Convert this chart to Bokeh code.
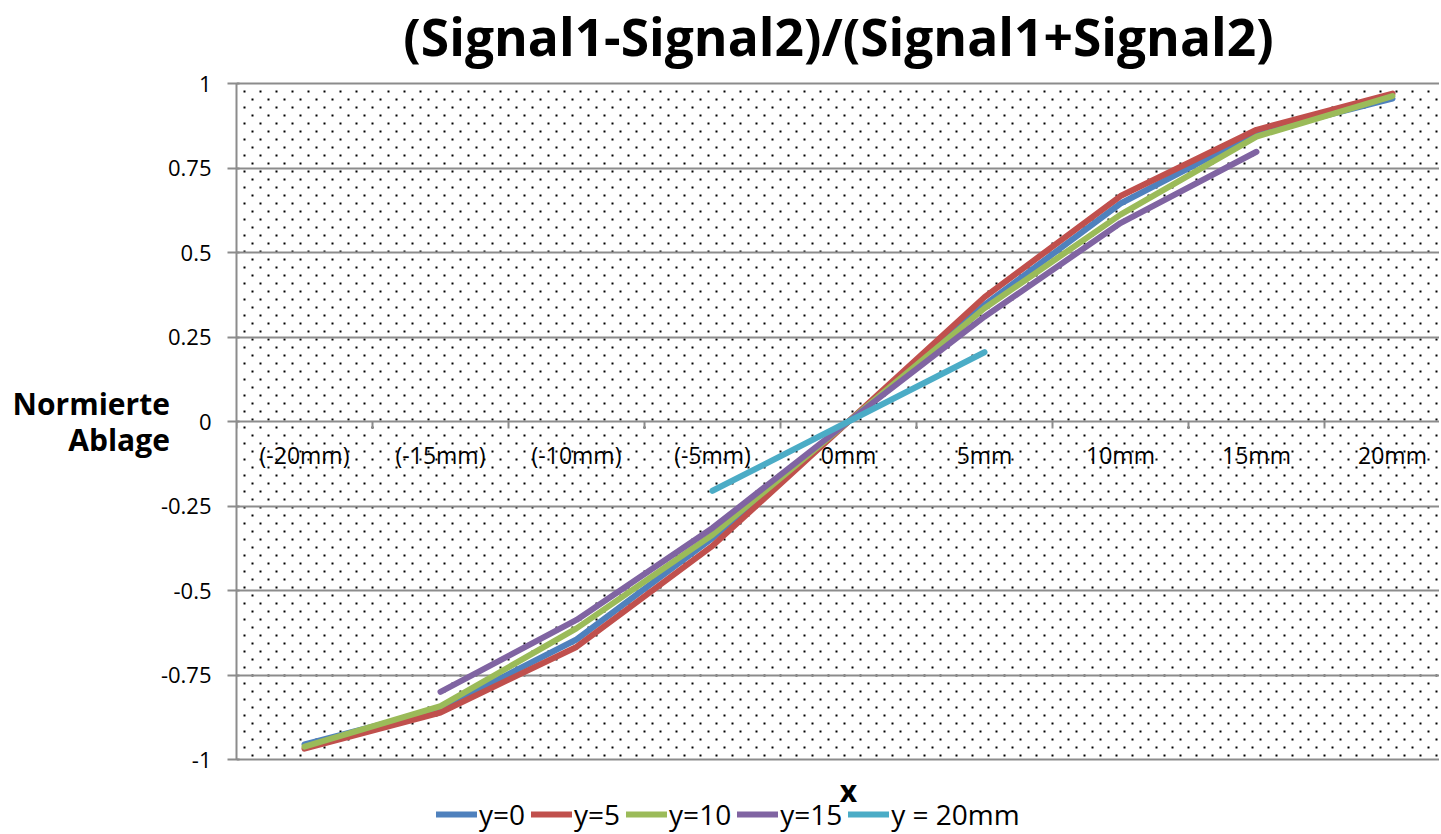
import numpy as np
from bokeh.plotting import figure
from bokeh.models import (Range1d, FixedTicker, CustomJSTickFormatter, Legend,
                          LegendItem, Label)
from bokeh.core.properties import value
from bokeh.embed import file_html
from bokeh.resources import INLINE

# ---------------- data ----------------
categories = ["(-20mm)", "(-15mm)", "(-10mm)", "(-5mm)", "0mm", "5mm", "10mm", "15mm", "20mm"]

y0_cats = categories
y0_vals = [-0.955, -0.850, -0.645, -0.345, 0.0, 0.345, 0.645, 0.853, 0.955]

y5_cats = categories
y5_vals = [-0.968, -0.861, -0.667, -0.368, 0.0, 0.368, 0.667, 0.863, 0.970]

y10_cats = categories
y10_vals = [-0.962, -0.842, -0.612, -0.335, 0.0, 0.335, 0.612, 0.843, 0.963]

y15_cats = categories[1:8]
y15_vals = [-0.800, -0.587, -0.315, 0.0, 0.310, 0.587, 0.798]

y20_cats = categories[3:6]
y20_vals = [-0.205, 0.0, 0.205]

series_names = ["y=0", "y=5", "y=10", "y=15", "y = 20mm"]
series_colors = ["#4F81BD", "#C0504D", "#9BBB59", "#8064A2", "#4BACC6"]

y_ticks = [-1, -0.75, -0.5, -0.25, 0, 0.25, 0.5, 0.75, 1]

title_text = "(Signal1-Signal2)/(Signal1+Signal2)"
y_title = "Normierte\nAblage"
x_title = "x"

FONT = "Open Sans"
GRID = "#8C8C8C"

# ---------------- geometry ----------------
FIG_W, FIG_H = 1439, 833
BORDER_L, BORDER_T = 236, 9
FRAME_W = FIG_W - BORDER_L
FRAME_H = FIG_H - BORDER_T
CAT_PX = 136.0          # pixels per category
Y_PX = 338.0            # pixels per unit of y
pad_px = (FRAME_H - 2 * Y_PX) / 2.0   # white band above 1 (title) and below -1 (legend)

p = figure(width=FIG_W, height=FIG_H,
           x_range=Range1d(-0.5, -0.5 + FRAME_W / CAT_PX),
           y_range=Range1d(-1 - pad_px / Y_PX, 1 + pad_px / Y_PX),
           output_backend="svg", toolbar_location=None,
           min_border_left=BORDER_L, min_border_right=0,
           min_border_top=BORDER_T, min_border_bottom=0)
p.outline_line_color = None
p.background_fill_color = "white"
p.border_fill_color = "white"

# dotted pattern background (Excel 5% pattern), only inside the -1..1 area
dx = 16.0 / CAT_PX
dy = 8.0 / Y_PX
x_start = -0.5 + 8.0 / CAT_PX
xr_end = p.x_range.end
dot_x, dot_y = [], []
row = 0
yy = 1 - 8.0 / Y_PX
while yy > -1:
    off = 0.0 if row % 2 == 0 else dx / 2
    xs_row = np.arange(x_start + off, xr_end, dx)
    dot_x.extend(xs_row.tolist())
    dot_y.extend([yy] * len(xs_row))
    yy -= dy
    row += 1
p.scatter(dot_x, dot_y, marker="square", size=2, fill_color="black",
          line_color=None, level="underlay")

# axes
p.xaxis.visible = False
p.xgrid.visible = False

ticker = FixedTicker(ticks=y_ticks)
p.yaxis.ticker = ticker
p.yaxis.bounds = (min(y_ticks), max(y_ticks))
p.yaxis.formatter = CustomJSTickFormatter(code="return String(tick);")
p.yaxis.minor_tick_line_color = None
p.yaxis.axis_line_color = GRID
p.yaxis.axis_line_width = 2
p.yaxis.major_tick_line_color = GRID
p.yaxis.major_tick_line_width = 2
p.yaxis.major_tick_out = 9
p.yaxis.major_tick_in = 3
p.yaxis.major_label_standoff = 16
p.yaxis.major_label_text_font = FONT
p.yaxis.major_label_text_font_size = "22px"
p.yaxis.major_label_text_color = "#000000"
p.yaxis.axis_label = y_title
p.yaxis.axis_label_orientation = "horizontal"
p.yaxis.axis_label_text_font = FONT
p.yaxis.axis_label_text_font_style = "bold"
p.yaxis.axis_label_text_font_size = "30px"
p.yaxis.axis_label_text_color = "#000000"
p.yaxis.axis_label_text_align = "center"
p.yaxis.axis_label_text_baseline = "middle"
p.yaxis.axis_label_text_line_height = 0.88
p.yaxis.axis_label_standoff = -12

p.ygrid.ticker = ticker
p.ygrid.grid_line_color = GRID
p.ygrid.grid_line_width = 2
p.ygrid.bounds = (-0.5, xr_end)

# category tick marks along the y=0 line
bounds = [i - 0.5 for i in range(len(categories) + 1)]
p.segment(x0=bounds, y0=[0] * len(bounds), x1=bounds, y1=[-7.0 / Y_PX] * len(bounds),
          line_color=GRID, line_width=2)

# category labels along y=0
p.text(x=list(range(len(categories))), y=[0] * len(categories), text=categories,
       text_align="center", text_baseline="middle", y_offset=33,
       text_font=value(FONT), text_font_size="23px", text_color="#000000")

# series
series = [(y0_cats, y0_vals), (y5_cats, y5_vals), (y10_cats, y10_vals),
          (y15_cats, y15_vals), (y20_cats, y20_vals)]
items = []
for (cats, vals), name, col in zip(series, series_names, series_colors):
    xs = [categories.index(c) for c in cats]
    r = p.line(xs, vals, line_color=col, line_width=6,
               line_cap="round", line_join="round")
    items.append(LegendItem(label=name, renderers=[r]))

legend = Legend(items=items, orientation="horizontal", location=(200, 0),
                label_text_font=FONT, label_text_font_size="28px",
                label_text_color="#000000", glyph_width=41, glyph_height=20,
                label_standoff=2, spacing=6, padding=0, margin=0,
                border_line_color=None, background_fill_alpha=0)
p.add_layout(legend, "center")

# chart title, in the white band above the plot area
x_mid = (p.x_range.start + p.x_range.start + 1204.0 / CAT_PX) / 2.0
p.add_layout(Label(x=x_mid, y=1 + 48.0 / Y_PX, text=title_text, text_align="center",
                   text_baseline="alphabetic", text_font=FONT, text_font_style="bold",
                   text_font_size="51.5px", text_color="#000000"))

# x title (sits between the plot area and the legend)
p.add_layout(Label(x=4, y=-1 - 31.0 / Y_PX, text=x_title, text_align="center",
                   text_baseline="middle", text_font=FONT, text_font_style="bold",
                   text_font_size="30px", text_color="#000000"))

open("out.html", "w").write(file_html(p, INLINE))
